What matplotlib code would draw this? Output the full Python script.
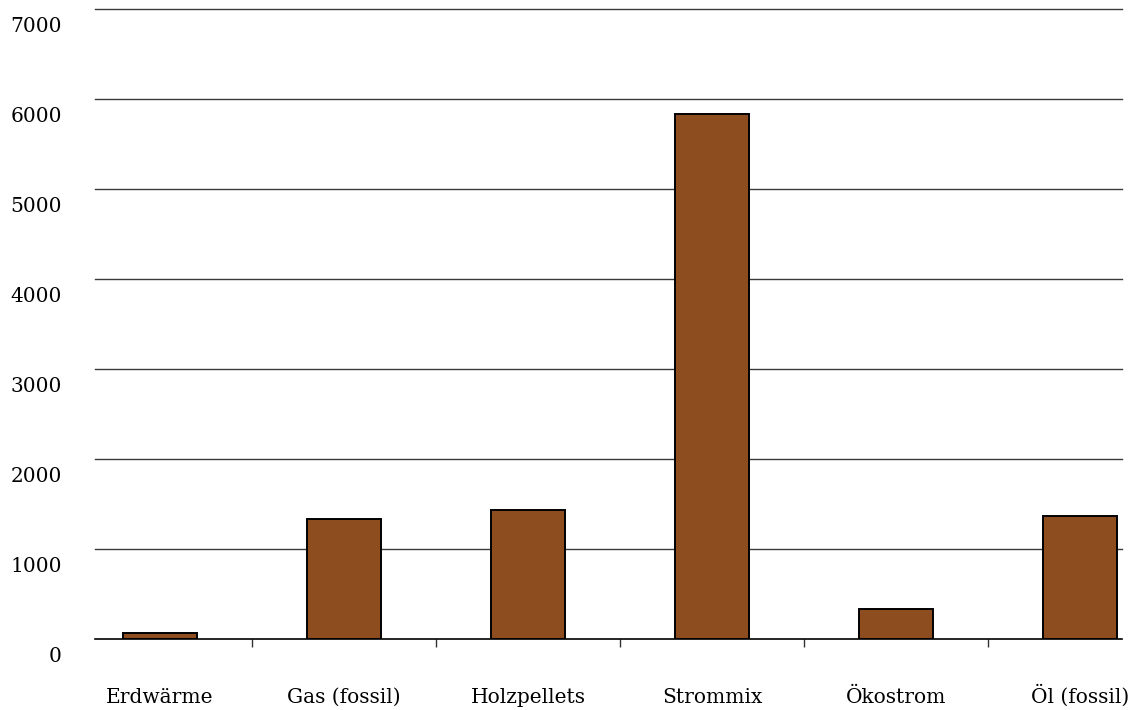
import numpy as np
import matplotlib.pyplot as plt
from matplotlib.transforms import blended_transform_factory

# Kategorien und Werte
kategorien = ['Erdwärme', 'Gas (fossil)', 'Holzpellets', 'Strommix', 'Ökostrom', 'Öl (fossil)']
werte = [70, 1333, 1430, 5833, 333, 1370]
y_ticks = [0, 1000, 2000, 3000, 4000, 5000, 6000, 7000]

plt.rcParams['font.family'] = ['DejaVu Serif']

W, H = 1144, 710
fig = plt.figure(figsize=(W/100, H/100), dpi=100)
# Achse etwas breiter als das Bild, damit die Kategorien wie im Diagramm liegen
ax = fig.add_axes([68/W, 71/H, 1104/W, 630/H])

x = np.arange(len(kategorien))
ax.set_xlim(-0.5, len(kategorien) - 0.5)
ax.set_ylim(0, 7000)

# Gitterlinien nur im sichtbaren Bereich
g0 = (95 - 68) / 1104
g1 = (1122 - 68) / 1104
for yt in y_ticks[1:]:
    ax.axhline(yt, xmin=g0, xmax=g1, color='#3a3a3a', lw=1.0, zorder=1, clip_on=False)
ax.axhline(0, xmin=g0, xmax=g1, color='black', lw=1.2, zorder=3, clip_on=False)

ax.bar(x, werte, width=0.40, color='#8E4D1E', edgecolor='black', linewidth=1.4, zorder=2)

for s in ax.spines.values():
    s.set_visible(False)

# y-Beschriftung etwas unterhalb der Gitterlinien
ax.set_yticks([])
trans = blended_transform_factory(fig.transFigure, ax.transData)
for yt in y_ticks:
    ax.annotate(str(yt), xy=(62/W, yt), xycoords=trans, xytext=(0, -12.5),
                textcoords='offset points', ha='right', va='center',
                fontsize=14.5, annotation_clip=False)

# Kategorienamen auf gemeinsamer Grundlinie
ax.set_xticks(x)
ax.set_xticklabels([])
ax.tick_params(axis='x', which='major', length=0)
for xi, name in zip(x, kategorien):
    ax.annotate(name, xy=(xi, 0), xytext=(0, -46), textcoords='offset points',
                ha='center', va='baseline', fontsize=14.5, annotation_clip=False)
ax.set_xticks(x[:-1] + 0.5, minor=True)
ax.tick_params(axis='x', which='minor', length=6, width=1, color='#333333', direction='out')

fig.savefig('out.png', dpi=100)
